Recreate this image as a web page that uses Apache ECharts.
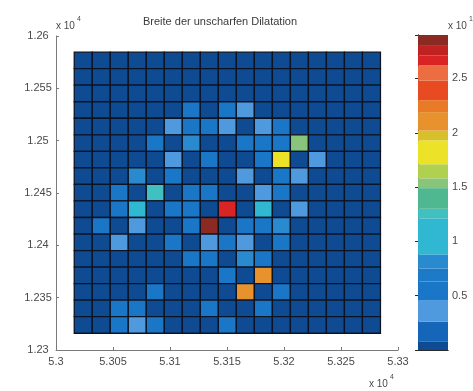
<!DOCTYPE html>
<html>
<head>
<meta charset="utf-8">
<script src="https://cdn.jsdelivr.net/npm/echarts@6/dist/echarts.min.js"></script>
<style>html,body{margin:0;padding:0;background:#fff}#c{width:473px;height:391px}</style>
</head>
<body>
<div id="c"></div>
<script>
// ---- data ----
const title = 'Breite der unscharfen Dilatation';
const cellSize = 15.8;
// left edges of the 17 columns (x, in metres)
const xCells = [53016.0, 53031.8, 53047.6, 53063.4, 53079.2, 53095.0, 53110.8, 53126.6, 53142.4, 53158.2, 53174.0, 53189.8, 53205.6, 53221.4, 53237.2, 53253.0, 53268.8];
// bottom edges of the 17 rows, from top row to bottom row (y, in metres)
const yCells = [12568.8, 12553.0, 12537.2, 12521.4, 12505.6, 12489.8, 12474.0, 12458.2, 12442.4, 12426.6, 12410.8, 12395.0, 12379.2, 12363.4, 12347.6, 12331.8, 12316.0];
// cell values (x 10^1), rows top -> bottom
const row01 = [0.03,0.03,0.03,0.03,0.03,0.03,0.03,0.03,0.03,0.03,0.03,0.03,0.03,0.03,0.03,0.03,0.03];
const row02 = [0.03,0.03,0.03,0.03,0.03,0.03,0.03,0.03,0.03,0.03,0.03,0.03,0.03,0.03,0.03,0.03,0.03];
const row03 = [0.03,0.03,0.03,0.03,0.03,0.03,0.03,0.03,0.03,0.03,0.03,0.03,0.03,0.03,0.03,0.03,0.03];
const row04 = [0.03,0.03,0.03,0.03,0.03,0.03,0.55,0.03,0.55,0.35,0.03,0.03,0.03,0.03,0.03,0.03,0.03];
const row05 = [0.03,0.03,0.03,0.03,0.03,0.35,0.55,0.55,0.35,0.03,0.35,0.55,0.03,0.03,0.03,0.03,0.03];
const row06 = [0.03,0.03,0.03,0.03,0.55,0.03,0.8,0.03,0.03,0.55,0.55,0.55,1.55,0.03,0.03,0.03,0.03];
const row07 = [0.03,0.03,0.03,0.03,0.03,0.35,0.03,0.55,0.03,0.03,0.55,1.8,0.03,0.35,0.03,0.03,0.03];
const row08 = [0.03,0.03,0.03,0.8,0.03,0.55,0.03,0.03,0.03,0.35,0.03,0.55,0.35,0.03,0.03,0.03,0.03];
const row09 = [0.03,0.03,0.55,0.03,1.25,0.03,0.55,0.55,0.03,0.03,0.35,0.55,0.03,0.03,0.03,0.03,0.03];
const row10 = [0.03,0.03,0.55,1.1,0.03,0.55,0.55,0.03,2.65,0.03,1.0,0.03,0.35,0.03,0.03,0.03,0.03];
const row11 = [0.03,0.55,0.03,0.35,0.03,0.03,0.55,2.85,0.03,0.55,0.55,0.8,0.03,0.03,0.03,0.03,0.03];
const row12 = [0.03,0.03,0.35,0.03,0.03,0.55,0.03,0.35,0.55,0.35,0.03,0.55,0.03,0.03,0.03,0.03,0.03];
const row13 = [0.03,0.03,0.03,0.03,0.03,0.03,0.55,0.55,0.03,0.8,0.55,0.03,0.03,0.03,0.03,0.03,0.03];
const row14 = [0.03,0.03,0.03,0.03,0.03,0.03,0.03,0.03,0.55,0.03,2.1,0.03,0.03,0.03,0.03,0.03,0.03];
const row15 = [0.03,0.03,0.03,0.03,0.55,0.03,0.03,0.03,0.03,2.15,0.03,0.55,0.03,0.03,0.03,0.03,0.03];
const row16 = [0.03,0.03,0.55,0.55,0.03,0.03,0.03,0.55,0.03,0.03,0.55,0.03,0.03,0.03,0.03,0.03,0.03];
const row17 = [0.03,0.03,0.55,0.35,0.55,0.03,0.03,0.03,0.55,0.03,0.03,0.03,0.03,0.03,0.03,0.03,0.03];
const rows = [row01,row02,row03,row04,row05,row06,row07,row08,row09,row10,row11,row12,row13,row14,row15,row16,row17];
// colormap bands (x 10^1)
const bandLo = [0, 0.08, 0.26, 0.46, 0.63, 0.75, 0.88, 1.21, 1.30, 1.49, 1.58, 1.71, 1.93, 2.02, 2.19, 2.30, 2.48, 2.62, 2.71, 2.80];
const bandHi = [0.08, 0.26, 0.46, 0.63, 0.75, 0.88, 1.21, 1.30, 1.49, 1.58, 1.71, 1.93, 2.02, 2.19, 2.30, 2.48, 2.62, 2.71, 2.80, 2.90];
const bandColors = ['#0e4b93','#1565b8','#4f9ade','#1a77c8','#1c7ac6','#2a8ad0','#30b8d2','#40c0c0','#50b890','#88c47c','#b0d050','#ece228','#d8c02a','#e8922e','#e87a28','#e84a22','#ec6e40','#d82424','#c02222','#8a2a22'];
const xTicks = [53000, 53300, 50];
const yTicks = [12300, 12600, 50];
const cTicks = [0, 2.9, 0.5];

// ---- build ----
const cellData = [];
rows.forEach((r, i) => r.forEach((v, j) => cellData.push([xCells[j], yCells[i], v])));
const bandData = bandLo.map((lo, i) => [lo, bandHi[i], i]);
const pieces = bandLo.map((lo, i) => ({gte: lo, lt: bandHi[i], color: bandColors[i]}));

const FONT = 'Liberation Sans, Arial, sans-serif';
const LBL = {color: '#4a4a4a', fontSize: 11, fontFamily: FONT};
const chart = echarts.init(document.getElementById('c'));
chart.setOption({
  backgroundColor: '#ffffff',
  animation: false,
  grid: [
    {left: 56, top: 36, width: 342, height: 314},
    {left: 418, top: 35, width: 30, height: 315}
  ],
  visualMap: {show: false, type: 'piecewise', dimension: 2, seriesIndex: 0, pieces: pieces},
  xAxis: [
    {type: 'value', gridIndex: 0, min: xTicks[0], max: xTicks[1], interval: xTicks[2],
     axisLine: {lineStyle: {color: '#7a7a7a', width: 1}}, splitLine: {show: false},
     axisTick: {inside: true, length: 3, lineStyle: {color: '#7a7a7a'}},
     axisLabel: Object.assign({margin: 6, formatter: v => String(parseFloat((v / 1e4).toFixed(4)))}, LBL)},
    {type: 'value', gridIndex: 1, min: 0, max: 1, position: 'bottom',
     axisLine: {lineStyle: {color: '#2a2a2a'}}, axisTick: {show: false}, axisLabel: {show: false}, splitLine: {show: false}},
    {type: 'value', gridIndex: 1, min: 0, max: 1, position: 'top',
     axisLine: {lineStyle: {color: '#2a2a2a'}}, axisTick: {show: false}, axisLabel: {show: false}, splitLine: {show: false}}
  ],
  yAxis: [
    {type: 'value', gridIndex: 0, min: yTicks[0], max: yTicks[1], interval: yTicks[2],
     axisLine: {lineStyle: {color: '#7a7a7a', width: 1}}, splitLine: {show: false},
     axisTick: {inside: true, length: 3, lineStyle: {color: '#7a7a7a'}},
     axisLabel: Object.assign({margin: 18, align: 'center', formatter: v => String(parseFloat((v / 1e4).toFixed(4)))}, LBL)},
    {type: 'value', gridIndex: 1, min: cTicks[0], max: cTicks[1], interval: cTicks[2], position: 'left',
     axisLine: {lineStyle: {color: '#2a2a2a'}}, splitLine: {show: false},
     axisTick: {inside: true, length: 3, lineStyle: {color: '#2a2a2a'}}, axisLabel: {show: false}},
    {type: 'value', gridIndex: 1, min: cTicks[0], max: cTicks[1], interval: cTicks[2], position: 'right',
     axisLine: {lineStyle: {color: '#2a2a2a'}}, splitLine: {show: false},
     axisTick: {inside: true, length: 3, lineStyle: {color: '#2a2a2a'}},
     axisLabel: Object.assign({margin: 4, formatter: v => (v > 0 && Math.abs(v / 0.5 - Math.round(v / 0.5)) < 1e-6) ? String(v) : ''}, LBL)}
  ],
  series: [
    {type: 'custom', xAxisIndex: 0, yAxisIndex: 0, data: cellData, encode: {x: 0, y: 1},
     renderItem: function (params, api) {
       const x0 = api.value(0), y0 = api.value(1);
       const p1 = api.coord([x0, y0 + cellSize]);
       const p2 = api.coord([x0 + cellSize, y0]);
       return {type: 'rect', shape: {x: p1[0], y: p1[1], width: p2[0] - p1[0], height: p2[1] - p1[1]},
               style: {fill: api.visual('color'), stroke: '#0c1424', lineWidth: 1.3}};
     }},
    {type: 'custom', xAxisIndex: 1, yAxisIndex: 1, data: bandData, encode: {y: [0, 1]},
     renderItem: function (params, api) {
       const lo = api.value(0), hi = api.value(1);
       const p1 = api.coord([0, hi]);
       const p2 = api.coord([1, lo]);
       return {type: 'rect', shape: {x: p1[0], y: p1[1], width: p2[0] - p1[0], height: p2[1] - p1[1]},
               style: {fill: bandColors[api.value(2)], stroke: null}};
     }, z: 1}
  ],
  graphic: [
    {type: 'text', left: 227 - 84, top: 16, style: {text: title, fontSize: 11, fontFamily: FONT, fill: '#3a3a3a'}},
    {type: 'text', left: 56, top: 21, style: {text: 'x 10', fontSize: 10, fontFamily: FONT, fill: '#4a4a4a'}},
    {type: 'text', left: 77, top: 16, style: {text: '4', fontSize: 7, fontFamily: FONT, fill: '#4a4a4a'}},
    {type: 'text', left: 369, top: 379, style: {text: 'x 10', fontSize: 10, fontFamily: FONT, fill: '#4a4a4a'}},
    {type: 'text', left: 390, top: 374, style: {text: '4', fontSize: 7, fontFamily: FONT, fill: '#4a4a4a'}},
    {type: 'text', left: 448, top: 21, style: {text: 'x 10', fontSize: 10, fontFamily: FONT, fill: '#4a4a4a'}},
    {type: 'text', left: 469, top: 16, style: {text: '1', fontSize: 7, fontFamily: FONT, fill: '#4a4a4a'}}
  ]
});
</script>
</body>
</html>
